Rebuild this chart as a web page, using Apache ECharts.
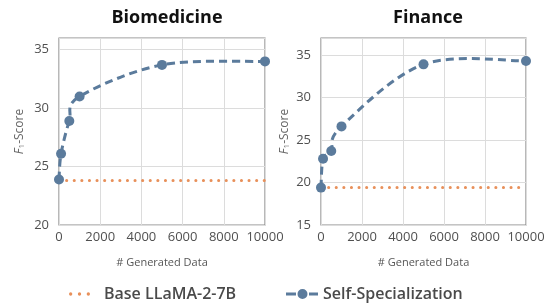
<!DOCTYPE html>
<html>
<head>
<meta charset="utf-8">
<script src="https://cdn.jsdelivr.net/npm/echarts@6/dist/echarts.min.js"></script>
<style>
  html, body { margin: 0; padding: 0; background: #fff; }
  #chart { width: 552px; height: 305px; }
</style>
</head>
<body>
<div id="chart"></div>
<script>
// data
const dataSizes = [0, 100, 500, 1000, 5000, 10000];
const bioSelfSpec = [23.9, 26.1, 28.9, 31.0, 33.7, 34.0];
const bioBase = 23.8;
const finSelfSpec = [19.4, 22.8, 23.7, 26.6, 33.9, 34.3];
const finBase = 19.4;
const panelTitles = ['Biomedicine', 'Finance'];
const seriesNames = ['Base LLaMA-2-7B', 'Self-Specialization'];

const blue = '#5b7b9c';
const orange = '#e8905a';
const font = '"Open Sans", "Noto Sans", sans-serif';

// legend swatches: three dots, and dash-dot-dash
const dotsIcon = 'path://M0,1.7a1.7,1.7 0 1,0 3.4,0a1.7,1.7 0 1,0 -3.4,0Z M9,1.7a1.7,1.7 0 1,0 3.4,0a1.7,1.7 0 1,0 -3.4,0Z M18,1.7a1.7,1.7 0 1,0 3.4,0a1.7,1.7 0 1,0 -3.4,0Z';
const dashDotIcon = 'path://M0,3.6h10v2.8h-10Z M11.5,5a5,5 0 1,0 10,0a5,5 0 1,0 -10,0Z M23,3.6h9v2.8h-9Z';

const chart = echarts.init(document.getElementById('chart'));

const toPairs = (xs, ys) => xs.map((x, i) => [x, ys[i]]);
const flat = (v) => [[0, v], [10000, v]];

// smooth curve through the points (catmull-rom, like the spreadsheet "smoothed line")
const smoothCurve = (ys) => (params, api) => {
  const pts = dataSizes.map((x, i) => api.coord([x, ys[i]]));
  let d = 'M' + pts[0][0] + ',' + pts[0][1];
  for (let i = 0; i < pts.length - 1; i++) {
    const p0 = pts[i - 1] || pts[i];
    const p1 = pts[i];
    const p2 = pts[i + 1];
    const p3 = pts[i + 2] || pts[i + 1];
    const c1 = [p1[0] + (p2[0] - p0[0]) / 6, p1[1] + (p2[1] - p0[1]) / 6];
    const c2 = [p2[0] - (p3[0] - p1[0]) / 6, p2[1] - (p3[1] - p1[1]) / 6];
    d += ' C' + c1[0] + ',' + c1[1] + ' ' + c2[0] + ',' + c2[1] + ' ' + p2[0] + ',' + p2[1];
  }
  return {
    type: 'path',
    shape: { pathData: d },
    style: { fill: 'none', stroke: blue, lineWidth: 3, lineDash: [8, 5] }
  };
};

const xAxis = (idx) => ({
  type: 'value', gridIndex: idx, min: 0, max: 10000, interval: 2000,
  name: '# Generated Data', nameLocation: 'middle', nameGap: 32,
  nameTextStyle: { color: '#555', fontSize: 11, fontFamily: font },
  axisLine: { show: false }, axisTick: { show: false },
  axisLabel: { color: '#505050', fontSize: 13, fontWeight: 500, fontFamily: font, margin: 6, formatter: (v) => String(v) },
  splitLine: { show: true, lineStyle: { color: '#dcdcdc' } }
});

const yAxis = (idx, min, max) => ({
  type: 'value', gridIndex: idx, min: min, max: max, interval: 5,
  name: '{i|F}{s|1}-Score', nameLocation: 'middle', nameRotate: 90, nameGap: idx === 0 ? 33 : 30,
  nameTextStyle: { color: '#666', fontFamily: font,
    rich: {
      i: { fontStyle: 'italic', fontSize: 12, color: '#666', fontFamily: font },
      s: { fontSize: 8, color: '#666', verticalAlign: 'bottom', fontFamily: font, padding: [5, 0, 0, 0] },
      n: { fontSize: 12, color: '#666', fontFamily: font }
    } },
  axisLine: { show: false }, axisTick: { show: false },
  axisLabel: { color: '#505050', fontSize: 13, fontWeight: 500, fontFamily: font, margin: 10,
    formatter: (v) => (v % 5 === 0 ? String(v) : '') },
  splitLine: { show: true, lineStyle: { color: '#dcdcdc' } }
});

const baseSeries = (idx, v) => ({
  name: seriesNames[0], type: 'line', xAxisIndex: idx, yAxisIndex: idx,
  data: flat(v), symbol: 'none', z: 2,
  lineStyle: { color: orange, width: 3, type: [0.1, 7.5], cap: 'round' },
  itemStyle: { color: orange }
});

// markers of the self-specialization points
const pointSeries = (idx, ys) => ({
  name: seriesNames[1], type: 'line', xAxisIndex: idx, yAxisIndex: idx,
  data: toPairs(dataSizes, ys), symbol: 'circle', symbolSize: 10, z: 4,
  lineStyle: { opacity: 0 },
  itemStyle: { color: blue }
});

// dashed smoothed line of the self-specialization points
const curveSeries = (idx, ys) => ({
  name: seriesNames[1], type: 'custom', xAxisIndex: idx, yAxisIndex: idx,
  data: [[dataSizes[0], ys[0]]], z: 3, silent: true,
  itemStyle: { color: blue },
  renderItem: smoothCurve(ys)
});

const legendText = { color: '#4a4a4a', fontSize: 16, fontWeight: 600, fontFamily: font };

chart.setOption({
  animation: false,
  textStyle: { fontFamily: font },
  title: [
    { text: panelTitles[0], left: 162, top: 4, textAlign: 'center',
      textStyle: { fontSize: 18, fontWeight: 'bold', color: '#111', fontFamily: font } },
    { text: panelTitles[1], left: 423, top: 4, textAlign: 'center',
      textStyle: { fontSize: 18, fontWeight: 'bold', color: '#111', fontFamily: font } }
  ],
  grid: [
    { left: 59, right: 287, top: 38, bottom: 80, show: true, borderColor: '#8a8a8a', borderWidth: 1.2, backgroundColor: 'transparent' },
    { left: 321, right: 26, top: 38, bottom: 80, show: true, borderColor: '#8a8a8a', borderWidth: 1.2, backgroundColor: 'transparent' }
  ],
  xAxis: [xAxis(0), xAxis(1)],
  yAxis: [yAxis(0, 20, 36), yAxis(1, 15, 37)],
  legend: [
    { left: 64, top: 281, itemWidth: 21, itemHeight: 3.4, selectedMode: false,
      data: [{ name: seriesNames[0], icon: dotsIcon }],
      textStyle: Object.assign({ padding: [0, 0, 0, 9] }, legendText) },
    { left: 281, top: 281, itemWidth: 32, itemHeight: 10, selectedMode: false,
      data: [{ name: seriesNames[1], icon: dashDotIcon }],
      textStyle: Object.assign({ padding: [0, 0, 0, 0] }, legendText) }
  ],
  series: [
    baseSeries(0, bioBase), curveSeries(0, bioSelfSpec), pointSeries(0, bioSelfSpec),
    baseSeries(1, finBase), curveSeries(1, finSelfSpec), pointSeries(1, finSelfSpec)
  ]
});
</script>
</body>
</html>
